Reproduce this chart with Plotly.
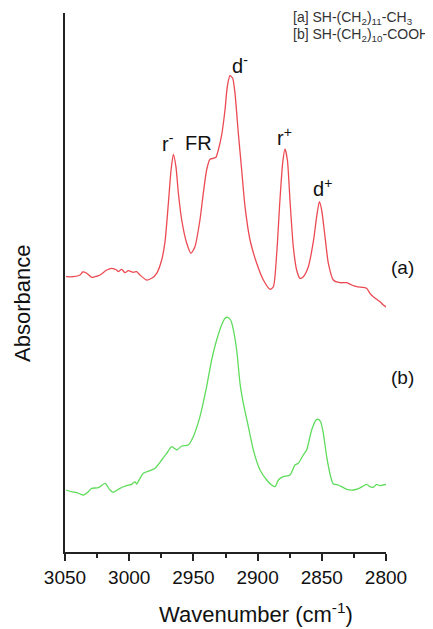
import plotly.graph_objects as go

# ---- data ----
wn_a = [3049.2, 3043.5, 3038.3, 3036.2, 3033.1, 3029.2, 3026.6, 3022.7, 3017.5, 3013.7,
        3009.8, 3008.5, 3005.9, 3003.3, 3000.7, 2996.8, 2994.2, 2991.6, 2986.4, 2982.5,
        2978.6, 2974.7, 2972.1, 2969.5, 2967.4, 2965.6, 2963.6, 2961.7, 2959.1, 2955.2,
        2951.9, 2948.8, 2944.9, 2942.3, 2939.7, 2937.1, 2934.5, 2932.4, 2930.6, 2928.0,
        2925.4, 2923.6, 2921.5, 2919.4, 2917.6, 2915.0, 2912.4, 2909.8, 2905.9, 2900.7,
        2895.5, 2890.3, 2887.7, 2885.1, 2882.6, 2880.5, 2878.7, 2876.8, 2874.8, 2872.2,
        2869.6, 2867.0, 2864.4, 2860.5, 2856.6, 2854.0, 2851.9, 2850.1, 2847.5, 2844.9,
        2841.0, 2835.8, 2830.6, 2826.7, 2822.8, 2817.7, 2815.1, 2812.5, 2809.9, 2807.3,
        2804.7, 2802.1, 2799.5]
abs_a = [2.753, 2.753, 2.770, 2.800, 2.787, 2.747, 2.753, 2.770, 2.820, 2.837,
         2.820, 2.803, 2.827, 2.793, 2.813, 2.797, 2.803, 2.770, 2.720, 2.737,
         2.787, 2.920, 3.103, 3.487, 3.820, 3.977, 3.853, 3.587, 3.320, 3.087,
         2.987, 3.053, 3.320, 3.587, 3.820, 3.927, 3.937, 3.947, 4.020, 4.170,
         4.420, 4.653, 4.763, 4.737, 4.587, 4.187, 3.820, 3.453, 3.120, 2.887,
         2.720, 2.627, 2.653, 2.987, 3.520, 3.887, 4.030, 3.920, 3.520, 3.053,
         2.820, 2.737, 2.753, 2.853, 3.103, 3.353, 3.503, 3.420, 3.153, 2.887,
         2.720, 2.693, 2.693, 2.670, 2.653, 2.647, 2.637, 2.587, 2.553, 2.527,
         2.503, 2.470, 2.447]

wn_b = [3049.2, 3044.8, 3040.9, 3035.7, 3031.8, 3029.2, 3024.0, 3018.8, 3015.0, 3012.4,
        3007.2, 3002.0, 2998.1, 2995.5, 2994.2, 2991.6, 2989.0, 2983.8, 2979.9, 2974.7,
        2970.8, 2966.9, 2963.0, 2959.1, 2954.0, 2950.1, 2944.9, 2939.7, 2935.8, 2931.9,
        2928.0, 2925.4, 2923.3, 2921.0, 2919.4, 2916.3, 2913.7, 2911.1, 2907.2, 2903.3,
        2898.1, 2892.9, 2889.0, 2886.4, 2883.8, 2880.0, 2874.8, 2870.9, 2868.3, 2864.4,
        2861.8, 2857.9, 2854.5, 2852.7, 2850.9, 2848.8, 2846.2, 2843.1, 2841.0, 2837.1,
        2834.5, 2830.6, 2825.4, 2821.5, 2817.7, 2815.1, 2812.5, 2809.9, 2807.3, 2804.7,
        2802.1, 2799.5]
abs_b = [0.620, 0.603, 0.593, 0.570, 0.603, 0.637, 0.643, 0.687, 0.620, 0.597,
         0.637, 0.663, 0.677, 0.703, 0.680, 0.737, 0.787, 0.813, 0.837, 0.920,
         0.987, 1.053, 1.020, 1.060, 1.070, 1.153, 1.353, 1.653, 1.920, 2.120,
         2.270, 2.337, 2.347, 2.320, 2.253, 2.020, 1.687, 1.487, 1.253, 1.020,
         0.820, 0.720, 0.670, 0.653, 0.720, 0.753, 0.770, 0.870, 0.887, 0.970,
         1.020, 1.220, 1.320, 1.327, 1.303, 1.187, 0.953, 0.753, 0.680, 0.670,
         0.653, 0.627, 0.620, 0.633, 0.660, 0.677, 0.653, 0.647, 0.677, 0.663,
         0.670, 0.677]

tick_vals = [3050, 3000, 2950, 2900, 2850, 2800]
tick_text = ["3050", "3000", "2950", "2900", "2850", "2800"]

peak_labels = ["r<sup>-</sup>", "FR", "d<sup>-</sup>", "r<sup>+</sup>", "d<sup>+</sup>"]
peak_wn = [2970.0, 2946.4, 2914.0, 2879.4, 2849.1]
peak_y = [4.10, 4.09, 4.88, 4.16, 3.65]

series_labels = ["(a)", "(b)"]
legend_lines = ["[a] SH-(CH<sub>2</sub>)<sub>11</sub>-CH<sub>3</sub>",
                "[b] SH-(CH<sub>2</sub>)<sub>10</sub>-COOH"]

FONT = "Liberation Sans, Arial, sans-serif"
AX = "#222222"

# plot area in page pixels: x 65..386, y 13..552 (page has 8px body margin)
PX0, PX1, PY0, PY1 = 65, 386, 13, 552


def px(x):
    return (x - PX0) / (PX1 - PX0)


def py(y):
    return (PY1 - y) / (PY1 - PY0)


fig = go.Figure()
fig.add_trace(go.Scatter(x=wn_a, y=abs_a, mode="lines", name="(a)",
                         line=dict(color="#ec4a52", width=1.3, shape="spline", smoothing=0.6)))
fig.add_trace(go.Scatter(x=wn_b, y=abs_b, mode="lines", name="(b)",
                         line=dict(color="#5fdc5c", width=1.3, shape="spline", smoothing=0.6)))

for t, xv, yv in zip(peak_labels, peak_wn, peak_y):
    fig.add_annotation(x=xv, y=yv, xref="x", yref="y", text=t, showarrow=False,
                       font=dict(family=FONT, size=20, color="#111111"),
                       xanchor="center", yanchor="middle")

fig.add_annotation(x=px(402), y=py(267), xref="paper", yref="paper", text=series_labels[0],
                   showarrow=False, xanchor="center", yanchor="middle",
                   font=dict(family=FONT, size=19, color="#111111"))
fig.add_annotation(x=px(402), y=py(377), xref="paper", yref="paper", text=series_labels[1],
                   showarrow=False, xanchor="center", yanchor="middle",
                   font=dict(family=FONT, size=19, color="#111111"))

for i, t in enumerate(legend_lines):
    fig.add_annotation(x=px(291), y=py(18 + 17 * i), xref="paper", yref="paper",
                       text=t, showarrow=False, xanchor="left", yanchor="middle",
                       font=dict(family=FONT, size=14, color="#333333"))

# axis titles
fig.add_annotation(x=px(22), y=py(304), xref="paper", yref="paper",
                   text="Absorbance", textangle=-90, showarrow=False,
                   xanchor="center", yanchor="middle",
                   font=dict(family=FONT, size=22, color="#111111"))
fig.add_annotation(x=px(256), y=py(613), xref="paper", yref="paper",
                   text="Wavenumber (cm<sup>-1</sup>)", showarrow=False,
                   xanchor="center", yanchor="middle",
                   font=dict(family=FONT, size=22, color="#111111"))

fig.update_layout(
    width=425, height=621,
    margin=dict(l=57, r=47, t=5, b=77),
    paper_bgcolor="white", plot_bgcolor="white",
    showlegend=False,
    font=dict(family=FONT, color="#111111"),
    xaxis=dict(range=[3050, 2800], tickvals=tick_vals, ticktext=tick_text,
               ticks="outside", ticklen=7, tickwidth=1.6, tickcolor=AX,
               showline=True, linecolor=AX, linewidth=2, mirror=False,
               showgrid=False, zeroline=False,
               tickfont=dict(family=FONT, size=19, color="#111111"),
               minor=dict(dtick=25, tick0=3025, ticks="outside", ticklen=4,
                          tickwidth=1.6, tickcolor=AX, showgrid=False)),
    yaxis=dict(range=[0, 5.39], showline=True, linecolor=AX, linewidth=2,
               showticklabels=False, ticks="", showgrid=False, zeroline=False),
)

fig.write_html("out.html")
